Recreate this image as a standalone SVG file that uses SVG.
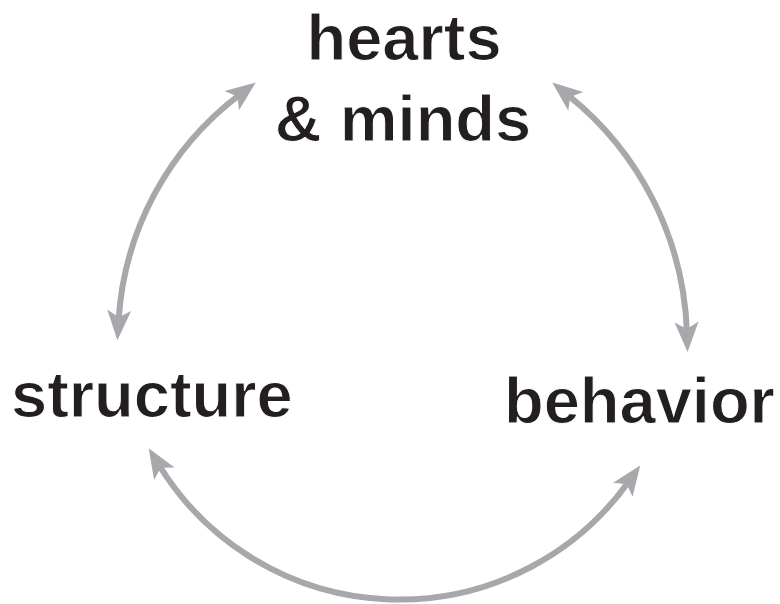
<svg xmlns="http://www.w3.org/2000/svg" width="780" height="604" viewBox="0 0 780 604">
<style>
.lbl{font-family:"Liberation Sans",Arial,sans-serif;font-weight:bold;font-size:65px;fill:#231f20;stroke:#fff;stroke-width:1;paint-order:fill stroke}
.arc{fill:none;stroke:#a7a8ab;stroke-width:6;marker-start:url(#ah);marker-end:url(#ah)}
</style>
<defs>
<marker id="ah" markerUnits="userSpaceOnUse" markerWidth="30" markerHeight="24" viewBox="0 -12 30 24" refX="10" refY="0" orient="auto-start-reverse" overflow="visible">
<path d="M0,-12 L30,0 L0,12 L7,0 Z" fill="#a7a8ab"/>
</marker>
</defs>
<rect width="780" height="604" fill="#fff"/>
<g id="connectors">
<path class="arc" d="M118.6,320.3 A306,306 0 0 1 239.8,94.6"/>
<path class="arc" d="M567.9,95.1 A317,317 0 0 1 686.9,332"/>
<path class="arc" d="M159.1,465.3 A282,282 0 0 0 628.6,481.7"/>
</g>
<g id="hearts-minds">
<text class="lbl" x="404" y="60" text-anchor="middle">hearts</text>
<text class="lbl" x="403" y="141" text-anchor="middle">&amp; minds</text>
</g>
<g id="structure">
<text class="lbl" x="11" y="417">structure</text>
</g>
<g id="behavior">
<text class="lbl" x="504" y="423">behavior</text>
</g>
</svg>
